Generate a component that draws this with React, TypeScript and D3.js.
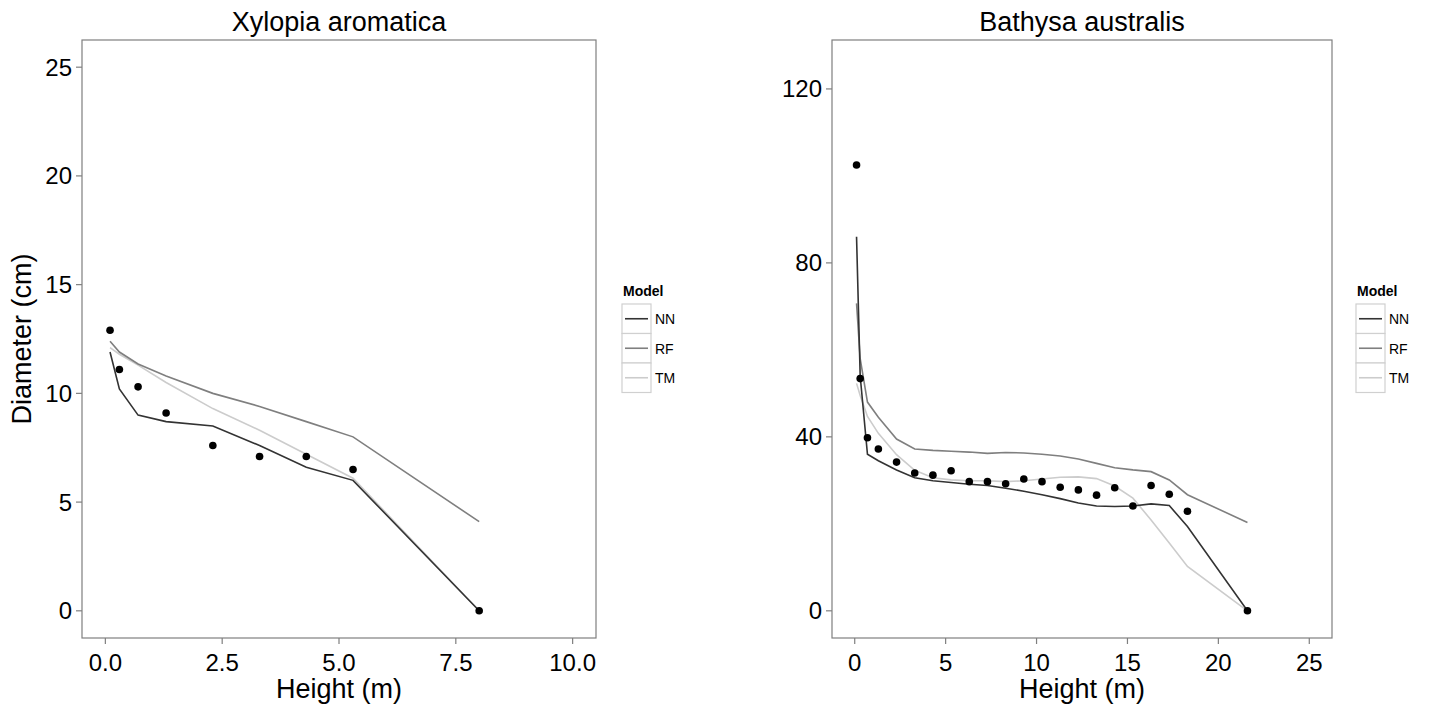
import React, { useEffect, useRef } from 'react';
import * as d3 from 'd3';

// Xylopia aromatica
const xyHeight = [0.1, 0.3, 0.7, 1.3, 2.3, 3.3, 4.3, 5.3, 8.0];
const xyObserved = [12.9, 11.1, 10.3, 9.1, 7.6, 7.1, 7.1, 6.5, 0];
const xyNN = [11.9, 10.2, 9.0, 8.7, 8.5, 7.6, 6.6, 6.0, 0];
const xyRF = [12.4, 11.9, 11.35, 10.8, 10.0, 9.4, 8.7, 8.0, 4.1];
const xyTM = [12.1, 11.8, 11.3, 10.5, 9.3, 8.3, 7.2, 6.1, 0];
const xyXTicks = [0, 2.5, 5, 7.5, 10];
const xyYTicks = [0, 5, 10, 15, 20, 25];

// Bathysa australis
const baHeight = [0.1, 0.3, 0.7, 1.3, 2.3, 3.3, 4.3, 5.3, 6.3, 7.3, 8.3, 9.3, 10.3, 11.3, 12.3, 13.3, 14.3, 15.3, 16.3, 17.3, 18.3, 21.6];
const baObserved = [102.5, 53.4, 39.8, 37.2, 34.2, 31.7, 31.2, 32.2, 29.7, 29.7, 29.2, 30.3, 29.7, 28.4, 27.8, 26.6, 28.3, 24.1, 28.8, 26.8, 22.9, 0];
const baNN = [86, 54, 36, 34.5, 32.4, 30.6, 29.9, 29.5, 29.1, 28.8, 28.2, 27.5, 26.7, 25.8, 24.8, 24.1, 24.0, 24.1, 24.6, 24.2, 19.4, 0];
const baRF = [70.7, 58, 48, 44.5, 39.5, 37.2, 36.9, 36.7, 36.5, 36.2, 36.4, 36.3, 36.0, 35.6, 34.9, 33.9, 32.9, 32.4, 32.0, 30.1, 26.7, 20.3];
const baTM = [52.3, 49.5, 44.7, 40.8, 35.9, 32.3, 30.6, 30.1, 29.9, 29.9, 29.7, 29.9, 30.3, 30.7, 30.8, 30.4, 28.7, 25.9, 20.9, 15.6, 10.2, 0];
const baXTicks = [0, 5, 10, 15, 20, 25];
const baYTicks = [0, 40, 80, 120];

const models = ['NN', 'RF', 'TM'];
const modelColors = ['#333333', '#7f7f7f', '#cccccc'];

const FONT = '"Liberation Sans", Arial, Helvetica, sans-serif';

export default function App() {
  const ref = useRef<SVGSVGElement>(null);

  useEffect(() => {
    const svg = d3.select(ref.current);
    svg.selectAll('*').remove();

    function panel(opts: any) {
      const { left, right, top, bottom, xLim, yLim, xTicks, yTicks, xFmt, title, yTitle, height, observed, preds, legendX } = opts;
      const xPad = (xLim[1] - xLim[0]) * 0.05;
      const yPad = (yLim[1] - yLim[0]) * 0.05;
      const x = d3.scaleLinear().domain([xLim[0] - xPad, xLim[1] + xPad]).range([left, right]);
      const y = d3.scaleLinear().domain([yLim[0] - yPad, yLim[1] + yPad]).range([bottom, top]);
      const g = svg.append('g');

      g.append('rect')
        .attr('x', left).attr('y', top)
        .attr('width', right - left).attr('height', bottom - top)
        .attr('fill', 'white').attr('stroke', '#7f7f7f').attr('stroke-width', 1.2);

      // lines, drawn light to dark
      const line = d3.line<number>().x((d, i) => x(height[i])).y(d => y(d));
      [2, 1, 0].forEach(k => {
        g.append('path')
          .attr('d', line(preds[k]))
          .attr('fill', 'none')
          .attr('stroke', modelColors[k])
          .attr('stroke-width', 1.6);
      });

      g.selectAll('circle.obs')
        .data(observed)
        .join('circle')
        .attr('cx', (d, i) => x(height[i]))
        .attr('cy', d => y(d))
        .attr('r', 3.8)
        .attr('fill', 'black');

      // x axis
      g.selectAll('line.xt')
        .data(xTicks)
        .join('line')
        .attr('x1', d => x(d)).attr('x2', d => x(d))
        .attr('y1', bottom).attr('y2', bottom + 6)
        .attr('stroke', '#7f7f7f').attr('stroke-width', 1.2);
      g.selectAll('text.xt')
        .data(xTicks)
        .join('text')
        .attr('x', d => x(d)).attr('y', bottom + 24)
        .attr('dominant-baseline', 'central')
        .attr('text-anchor', 'middle')
        .attr('font-family', FONT).attr('font-size', 24)
        .text(d => xFmt(d));

      // y axis
      g.selectAll('line.yt')
        .data(yTicks)
        .join('line')
        .attr('x1', left - 6).attr('x2', left)
        .attr('y1', d => y(d)).attr('y2', d => y(d))
        .attr('stroke', '#7f7f7f').attr('stroke-width', 1.2);
      g.selectAll('text.yt')
        .data(yTicks)
        .join('text')
        .attr('x', left - 10).attr('y', d => y(d))
        .attr('dominant-baseline', 'central')
        .attr('text-anchor', 'end')
        .attr('font-family', FONT).attr('font-size', 24)
        .text(d => String(d));

      g.append('text')
        .attr('x', (left + right) / 2).attr('y', 22)
        .attr('dominant-baseline', 'central')
        .attr('text-anchor', 'middle')
        .attr('font-family', FONT).attr('font-size', 27)
        .text(title);

      g.append('text')
        .attr('x', (left + right) / 2).attr('y', 689)
        .attr('dominant-baseline', 'central')
        .attr('text-anchor', 'middle')
        .attr('font-family', FONT).attr('font-size', 27)
        .text('Height (m)');

      if (yTitle) {
        g.append('text')
          .attr('transform', `translate(22, ${(top + bottom) / 2}) rotate(-90)`)
          .attr('dominant-baseline', 'central')
          .attr('text-anchor', 'middle')
          .attr('font-family', FONT).attr('font-size', 27)
          .text(yTitle);
      }

      // legend
      const lg = g.append('g').attr('transform', `translate(${legendX}, 0)`);
      lg.append('text')
        .attr('x', 1).attr('y', 291)
        .attr('dominant-baseline', 'central')
        .attr('font-family', FONT).attr('font-size', 14).attr('font-weight', 'bold')
        .text('Model');
      models.forEach((m, k) => {
        const ky = 304 + k * 29.5;
        lg.append('rect')
          .attr('x', 0).attr('y', ky).attr('width', 29).attr('height', 29.5)
          .attr('fill', 'white').attr('stroke', '#d0d0d0').attr('stroke-width', 1.2);
        lg.append('line')
          .attr('x1', 3).attr('x2', 26)
          .attr('y1', ky + 14.75).attr('y2', ky + 14.75)
          .attr('stroke', modelColors[k]).attr('stroke-width', 1.6);
        lg.append('text')
          .attr('x', 33).attr('y', ky + 15)
          .attr('dominant-baseline', 'central')
          .attr('font-family', FONT).attr('font-size', 14)
          .text(m);
      });
    }

    panel({
      left: 82, right: 596, top: 40, bottom: 638,
      xLim: [0, 10], yLim: [0, 25],
      xTicks: xyXTicks, yTicks: xyYTicks,
      xFmt: (d: number) => d.toFixed(1),
      title: 'Xylopia aromatica', yTitle: 'Diameter (cm)',
      height: xyHeight, observed: xyObserved, preds: [xyNN, xyRF, xyTM],
      legendX: 622,
    });

    panel({
      left: 832, right: 1332, top: 40, bottom: 638,
      xLim: [0, 25], yLim: [0, 125],
      xTicks: baXTicks, yTicks: baYTicks,
      xFmt: (d: number) => String(d),
      title: 'Bathysa australis', yTitle: null,
      height: baHeight, observed: baObserved, preds: [baNN, baRF, baTM],
      legendX: 1356,
    });
  }, []);

  return (
    <svg
      ref={ref}
      width={1429}
      height={707}
      style={{ position: 'absolute', left: 0, top: 0, background: 'white' }}
    />
  );
}
